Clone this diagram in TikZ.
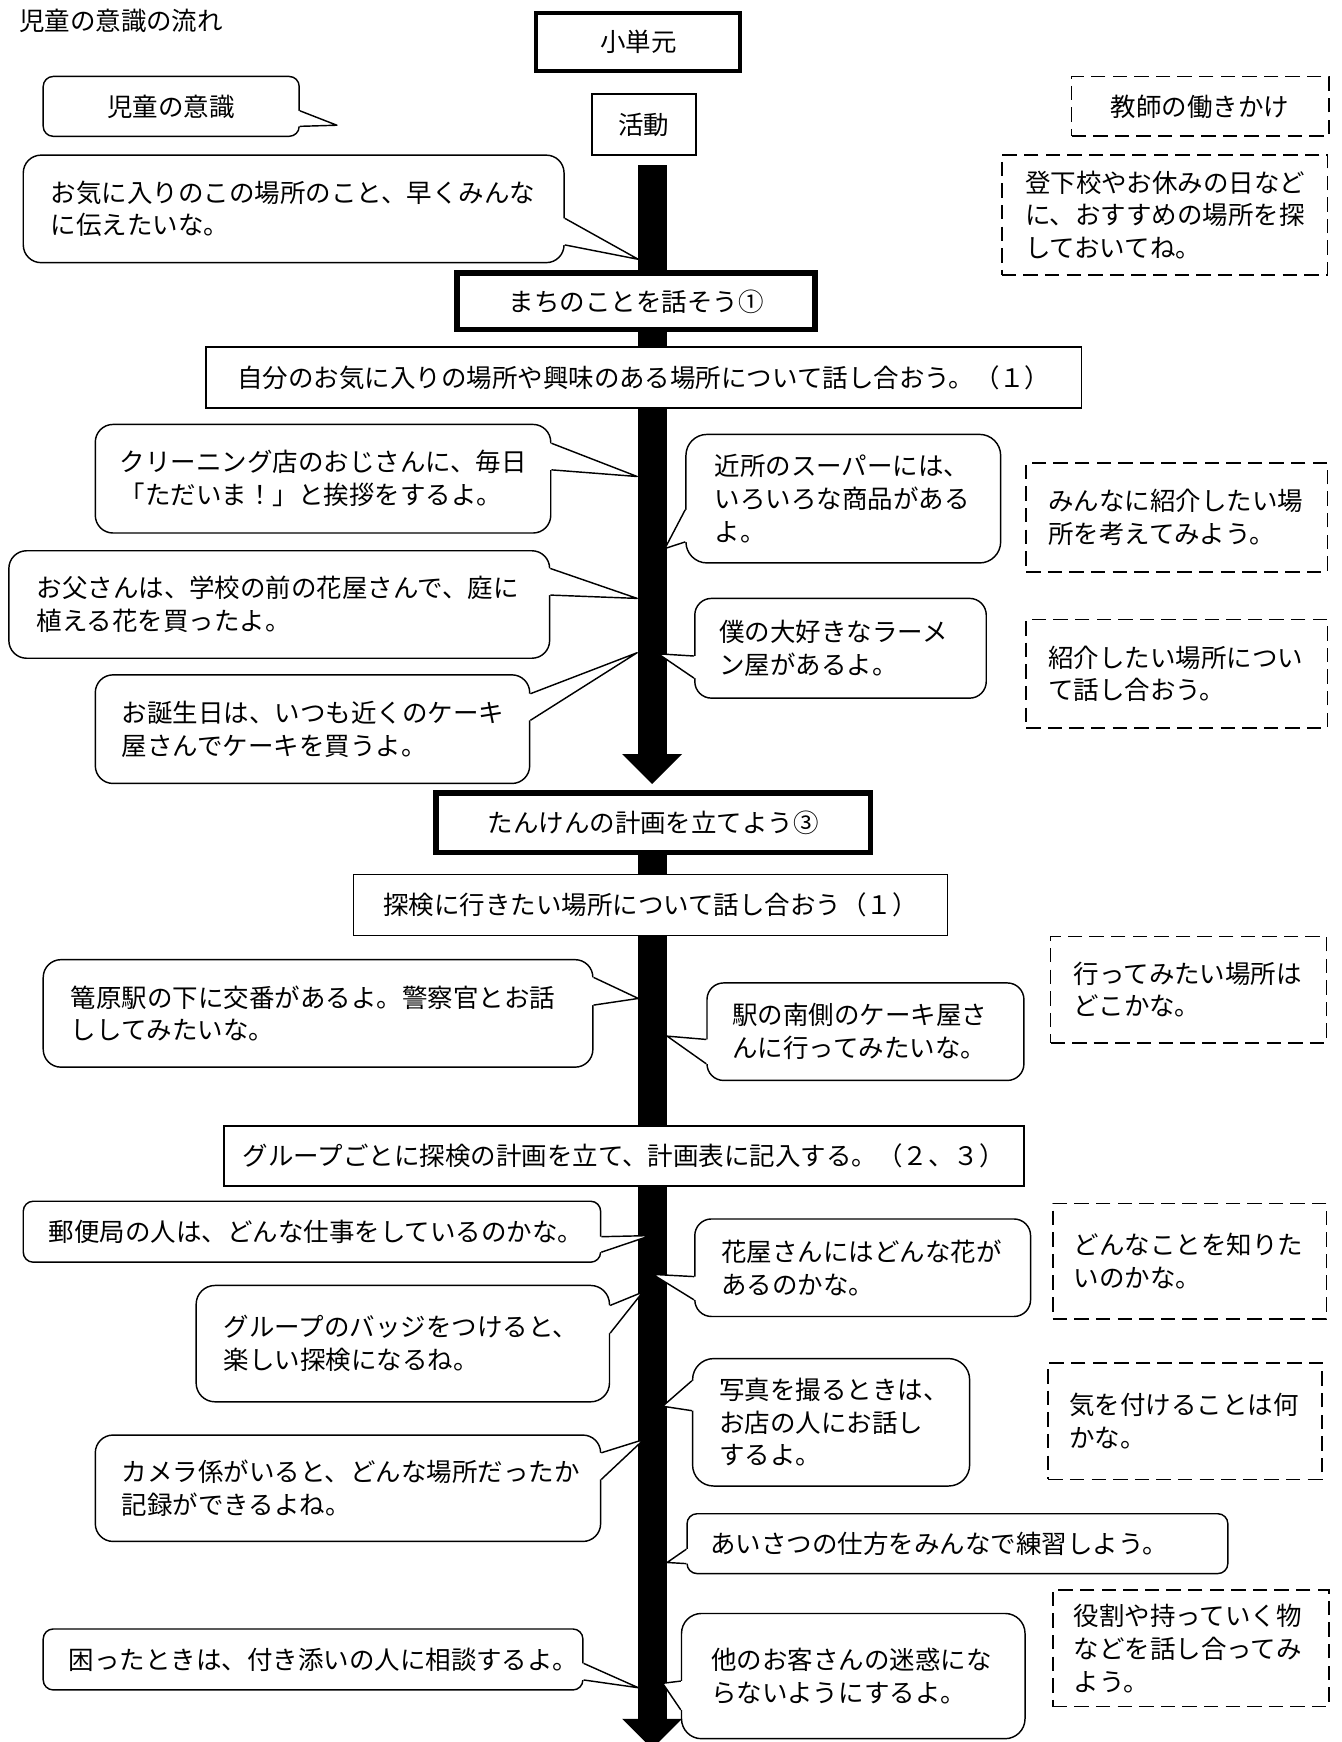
\documentclass[tikz,border=0pt]{standalone}
\usepackage{fontspec}
\setmainfont{Noto Sans CJK JP}
\usetikzlibrary{calc}
\pgfdeclarelayer{bg}
\pgfsetlayers{bg,main}
\newcommand\myfs{\fontsize{23pt}{29.5pt}\selectfont}
\tikzset{
  base/.style={font=\myfs, inner ysep=2pt},
  sz/.style n args={4}{minimum width=#1pt, minimum height=#2pt, inner xsep=#3pt, text width=#4pt},
  bubble/.style={base, draw, fill=white, line width=1.3pt, align=left},
  dbox/.style={base, draw, fill=white, line width=1.5pt, dash pattern=on 13pt off 6.5pt, align=left},
  tbox/.style={base, draw, fill=white, line width=1.4pt, align=center},
  heavybox/.style={tbox, line width=5pt},
  tailline/.style={line width=1.3pt, line join=round},
}
% tail on the right edge of a bubble: node, y of upper attach, tip, y of lower attach
\newcommand\tailR[4]{%
  \fill[white] ($(#1.east |- 0,#2)+(-3,0)$) -- (#1.east |- 0,#2) -- #3 -- (#1.east |- 0,#4) -- ($(#1.east |- 0,#4)+(-3,0)$) -- cycle;
  \draw[tailline] (#1.east |- 0,#2) -- #3 -- (#1.east |- 0,#4);}
% tail on the left edge of a bubble
\newcommand\tailL[4]{%
  \fill[white] ($(#1.west |- 0,#2)+(3,0)$) -- (#1.west |- 0,#2) -- #3 -- (#1.west |- 0,#4) -- ($(#1.west |- 0,#4)+(3,0)$) -- cycle;
  \draw[tailline] (#1.west |- 0,#2) -- #3 -- (#1.west |- 0,#4);}
\begin{document}
\begin{tikzpicture}[x=1pt,y=-1pt]
\begin{pgfonlayer}{bg}
  \fill[white] (0,0) rectangle (1210.15,1572);
\end{pgfonlayer}
\useasboundingbox (0,0) rectangle (1210.15,1572);

\node[base, anchor=west, inner sep=0pt] (title) at (17,19) {児童の意識の流れ};

% flow boxes
\node[tbox, line width=3.6pt, minimum width=184pt, minimum height=52pt] (shotangen) at (576,38) {小単元};
\node[tbox, minimum width=94pt, minimum height=55pt] (katsudo) at (581,112.5) {活動};
\node[heavybox, minimum width=323pt, minimum height=51pt] (machi) at (574,272) {まちのことを話そう①};
\node[tbox, minimum width=790pt, minimum height=55pt] (jibun) at (581,340.5) {自分のお気に入りの場所や興味のある場所について話し合おう。（１）};
\node[heavybox, minimum width=392pt, minimum height=54pt] (tanken) at (589.5,742.5) {たんけんの計画を立てよう③};
\node[tbox, minimum width=536pt, minimum height=55pt] (tanken2) at (587,816.5) {探検に行きたい場所について話し合おう（１）};
\node[tbox, minimum width=722pt, minimum height=54pt] (group) at (563,1043) {グループごとに探検の計画を立て、計画表に記入する。（２、３）};

% legend
\node[bubble, align=center, rounded corners=9pt, sz={231}{54}{20}{191}] (jido) at (154.5,96) {児童の意識};
\node[dbox, align=center, sz={232}{54}{20}{192}] (d1) at (1083,96) {教師の働きかけ};

% teacher boxes
\node[dbox, sz={294}{108}{21}{252}] (d2) at (1051,194) {登下校やお休みの日など\\に、おすすめの場所を探\\しておいてね。};
\node[dbox, sz={272}{98}{20}{232}] (d3) at (1062,467) {みんなに紹介したい場\\所を考えてみよう。};
\node[dbox, sz={272}{98}{20}{232}] (d4) at (1062,608) {紹介したい場所につい\\て話し合おう。};
\node[dbox, sz={249}{96}{21}{207}] (d5) at (1072.5,893) {行ってみたい場所は\\どこかな。};
\node[dbox, sz={247}{104}{19}{209}] (d6) at (1073.5,1138) {どんなことを知りた\\いのかな。};
\node[dbox, sz={247}{105}{19}{209}] (d7) at (1069.5,1282.5) {気を付けることは何\\かな。};
\node[dbox, sz={249}{105}{19}{211}] (d8) at (1074.5,1487.5) {役割や持っていく物\\などを話し合ってみ\\よう。};

% children bubbles, left
\node[bubble, rounded corners=16pt, sz={488}{97}{25}{438}] (b1) at (265,188.5) {お気に入りのこの場所のこと、早くみんな\\に伝えたいな。};
\node[bubble, rounded corners=16pt, sz={411}{98}{22}{367}] (b2) at (291.5,432) {クリーニング店のおじさんに、毎日\\「ただいま！」と挨拶をするよ。};
\node[bubble, rounded corners=16pt, sz={488}{97}{25}{438}] (b3) at (252,545.5) {お父さんは、学校の前の花屋さんで、庭に\\植える花を買ったよ。};
\node[bubble, rounded corners=16pt, sz={392}{98}{24}{344}] (b4) at (282,658) {お誕生日は、いつも近くのケーキ\\屋さんでケーキを買うよ。};
\node[bubble, rounded corners=16pt, sz={496}{97}{25}{446}] (b5) at (287,914.5) {篭原駅の下に交番があるよ。警察官とお話\\ししてみたいな。};
\node[bubble, rounded corners=9pt, sz={521}{55}{23}{475}] (b6) at (281.5,1111.5) {郵便局の人は、どんな仕事をしているのかな。};
\node[bubble, rounded corners=17pt, sz={373}{105}{25}{323}] (b7) at (363.5,1212.5) {グループのバッジをつけると、\\楽しい探検になるね。};
\node[bubble, rounded corners=16pt, sz={456}{96}{24}{408}] (b8) at (314,1343) {カメラ係がいると、どんな場所だったか\\記録ができるよね。};
\node[bubble, rounded corners=9pt, sz={487}{55}{23}{441}] (b9) at (282.5,1497.5) {困ったときは、付き添いの人に相談するよ。};

% children bubbles, right
\node[bubble, rounded corners=19pt, sz={284}{116}{26}{232}] (b10) at (761,450) {近所のスーパーには、\\いろいろな商品がある\\よ。};
\node[bubble, rounded corners=15pt, sz={263}{90}{22}{219}] (b11) at (758.5,585) {僕の大好きなラーメ\\ン屋があるよ。};
\node[bubble, rounded corners=15pt, sz={286}{88}{23}{240}] (b12) at (781,931) {駅の南側のケーキ屋さ\\んに行ってみたいな。};
\node[bubble, rounded corners=15pt, sz={303}{88}{24}{255}] (b13) at (778.5,1144) {花屋さんにはどんな花が\\あるのかな。};
\node[bubble, rounded corners=19pt, sz={250}{115}{24}{202}] (b14) at (750,1283.5) {写真を撮るときは、\\お店の人にお話し\\するよ。};
\node[bubble, rounded corners=9pt, sz={488}{54}{21}{446}] (b15) at (864,1393) {あいさつの仕方をみんなで練習しよう。};
\node[bubble, rounded corners=18pt, sz={310}{113}{27}{256}] (b16) at (770,1512.5) {他のお客さんの迷惑にな\\らないようにするよ。};

% main flow arrow (behind the boxes)
\coordinate (ax) at (588.5,0);
\coordinate (h1) at ($(tanken.north -| ax)+(0,-32.5)$);
\coordinate (h2) at (ax |- 0,1551);
\begin{pgfonlayer}{bg}
  \fill ($(katsudo.south -| ax)+(-13,8)$) rectangle ($(h1)+(13,0)$);
  \fill ($(h1)+(-27,0)$) -- ($(h1)+(27,0)$) -- ($(h1)+(0,27)$) -- cycle;
  \fill ($(tanken.south -| ax)+(-13,0)$) rectangle ($(h2)+(13,0)$);
  \fill ($(h2)+(-27,0)$) -- ($(h2)+(27,0)$) -- ($(h2)+(0,27)$) -- cycle;
\end{pgfonlayer}

% tails
\tailR{jido}{100}{(304,113)}{114}
\tailR{b1}{197}{(576,234)}{221}
\tailR{b2}{400}{(575,430)}{424}
\tailR{b3}{513}{(575,540)}{537}
\tailR{b4}{626}{(575,589)}{650}
\tailR{b5}{882}{(576,901)}{907}
\tailR{b6}{1116}{(587,1115)}{1130}
\tailR{b7}{1178}{(580,1166)}{1203}
\tailR{b8}{1311}{(581,1299)}{1335}
\tailR{b9}{1501}{(576,1523)}{1516}
\tailL{b10}{460}{(600,495)}{489}
\tailL{b11}{592}{(594,590)}{612}
\tailL{b12}{938}{(602,935)}{960}
\tailL{b13}{1152}{(589,1150)}{1173}
\tailL{b14}{1246}{(598,1269)}{1273}
\tailL{b15}{1398}{(602,1410)}{1411}
\tailL{b16}{1517}{(598,1519)}{1543}
\end{tikzpicture}
\end{document}
